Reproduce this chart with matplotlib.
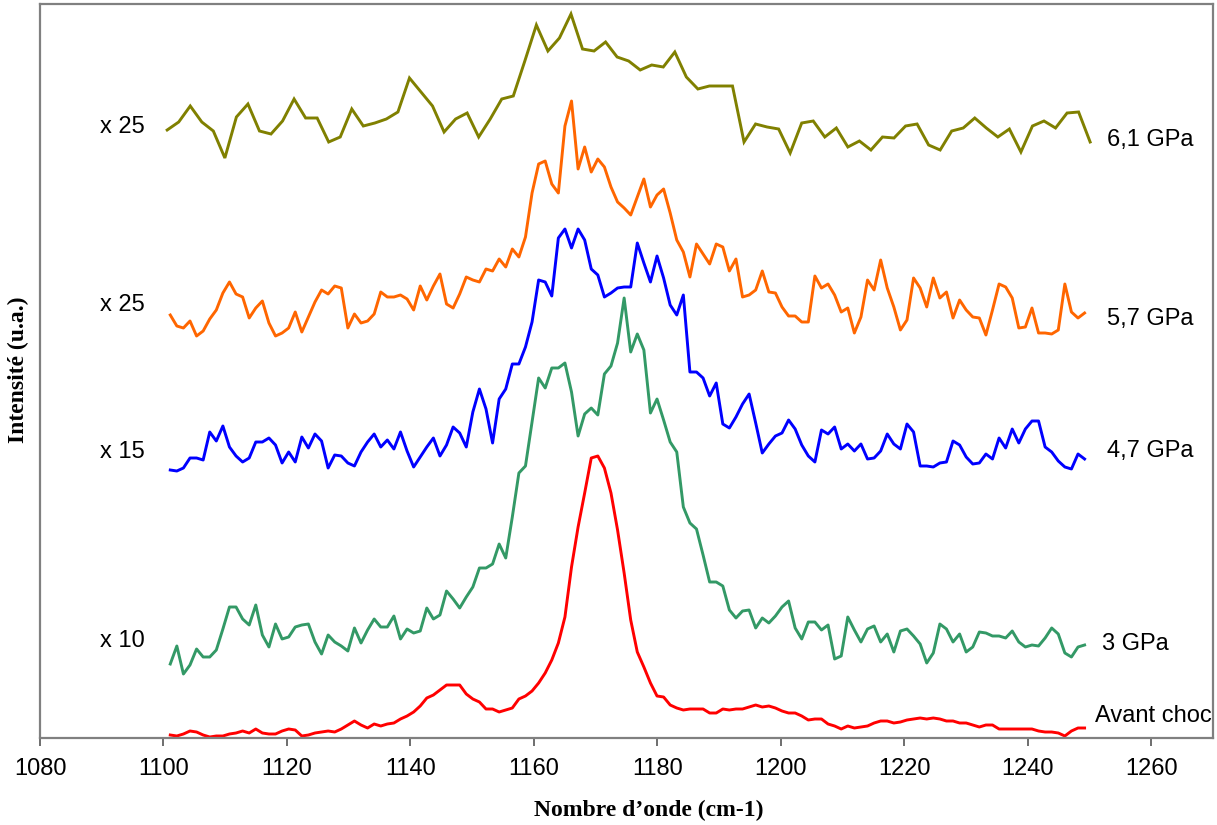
import numpy as np
import matplotlib
matplotlib.use("Agg")
import matplotlib.pyplot as plt

# ---- data (intensity in arbitrary units) ----
olive_start, olive_end = 1100.6, 1250.1
olive_6_1 = [610, 618, 634, 618, 609, 582, 623, 636, 609, 606, 619, 641, 622, 622, 598, 603, 631, 614, 617, 621,
             628, 662, 648, 634, 608, 621, 627,
             603, 621, 641, 644, 679, 715, 689, 702, 726, 691, 689, 698, 683, 679, 670, 675, 673, 688, 663, 651,
             654, 654, 654, 598, 616, 613, 611,
             587, 617, 619, 603, 612, 593, 599, 590, 603, 602, 614, 616, 595, 590, 609, 612, 622, 612, 603, 611,
             588, 614, 619, 612, 627, 628, 598]

grid_start, grid_end = 1101.1, 1249.2
orange_5_7 = [425, 414, 412, 419, 404, 409, 421, 430, 447, 458, 446, 443, 422, 432, 439, 417, 404, 407, 412, 428,
              408, 423, 438, 450, 446, 454, 452, 412, 426, 417, 419, 426, 448, 443, 443, 445, 441, 430, 454, 440,
              454, 466, 436, 432, 446, 463,
              460, 458, 471, 469, 481, 473, 491, 483, 503, 547, 576, 579, 556, 547, 614, 639, 571, 593, 568, 581,
              573, 553, 538, 532, 525, 543, 561, 533, 545, 551, 527, 500, 488, 463, 496, 486, 476, 496, 493, 469,
              481, 443, 445, 450, 469, 448, 447,
              433, 424, 424, 418, 418, 464, 452, 456, 445, 428, 432, 407, 423, 460, 450, 480, 452, 433, 410, 420,
              462, 452, 433, 462, 442, 448, 422, 440, 430, 423, 422, 405, 430, 456, 453, 442, 412, 413, 432, 407,
              407, 406, 410, 456, 428, 422, 427]

blue_4_7 = [270, 269, 272, 282, 282, 280, 308, 299, 314, 293, 284, 278, 282, 298, 298, 302, 295, 277, 288, 278,
            303, 292, 306, 299, 272, 285, 284, 277, 274, 288, 298, 306, 293, 300, 291, 308, 289, 273, 283, 293,
            302, 284, 295, 313, 307, 293,
            328, 351, 331, 297, 341, 351, 376, 376, 393, 418, 460, 458, 444, 502, 511, 492, 511, 500, 471, 465,
            443, 447, 452, 453, 453, 497, 477, 458, 484, 462, 435, 425, 445, 368, 368, 362, 344, 357, 316, 312,
            323, 336, 346, 317, 287, 296, 304,
            307, 320, 311, 295, 284, 278, 310, 306, 313, 291, 296, 289, 296, 281, 282, 289, 306, 296, 291, 316,
            308, 274, 274, 273, 277, 278, 299, 295, 283, 276, 277, 286, 281, 302, 292, 311, 297, 311, 319, 319,
            293, 288, 279, 273, 271, 286, 281]

green_3 = [76, 94, 66, 75, 91, 83, 83, 90, 111, 133, 133, 121, 115, 135, 105, 93, 116, 101, 103, 113,
           115, 116, 98, 86, 105, 98, 94, 89, 112, 97, 110, 121, 113, 113, 124, 101, 111, 107, 109, 132,
           121, 125, 149, 141, 132, 143,
           153, 172, 172, 176, 196, 182, 223, 267, 274, 318, 362, 352, 372, 372, 377, 348, 304, 326, 332, 325,
           366, 374, 397, 442, 388, 406, 390, 327, 341, 320, 298, 288, 233, 217, 211, 185, 158, 158, 154, 130,
           122, 129, 130, 112, 122, 117, 124,
           133, 139, 112, 101, 118, 118, 110, 115, 81, 84, 123, 110, 98, 111, 114, 98, 106, 88, 109, 111,
           104, 96, 77, 87, 116, 111, 98, 106, 88, 93, 108, 107, 104, 104, 102, 109, 98, 93, 95, 94,
           102, 112, 106, 87, 83, 93, 95]

red_avant = [5, 4, 6, 9, 8, 5, 3, 4, 4, 6, 7, 9, 7, 11, 7, 6, 6, 9, 11, 10,
             4, 5, 7, 8, 9, 8, 11, 15, 19, 15, 12, 16, 14, 16, 17, 21, 24, 28, 34, 42,
             45, 50, 55, 55, 55, 46,
             41, 38, 31, 31, 28, 30, 32, 41, 44, 49, 57, 67, 80, 97, 123, 173, 213, 247, 282, 284,
             272, 247, 210, 167, 120, 88, 73, 57, 44, 43, 35, 32, 30, 31, 31, 31, 27, 27, 31, 30,
             31, 31, 33, 35, 33, 34, 32,
             29, 27, 27, 24, 20, 21, 21, 16, 14, 11, 14, 12, 13, 14, 17, 19, 19, 17, 18, 20,
             21, 22, 21, 22, 21, 19, 19, 17, 17, 15, 13, 15, 15, 11, 11, 11, 11, 11, 11, 9,
             8, 8, 7, 4, 9, 12, 12]

series_names = ["6,1 GPa", "5,7 GPa", "4,7 GPa", "3 GPa", "Avant choc"]
factors = ["x 25", "x 25", "x 15", "x 10"]
x_ticks = [1080, 1100, 1120, 1140, 1160, 1180, 1200, 1220, 1240, 1260]

# ---- figure ----
W, H = 1217, 825
fig = plt.figure(figsize=(W / 100, H / 100), dpi=100)
ax = fig.add_axes([40 / W, (H - 737.5) / H, (1213 - 40) / W, (737.5 - 4) / H])

olive_x = np.linspace(olive_start, olive_end, len(olive_6_1))
grid_x = np.linspace(grid_start, grid_end, len(orange_5_7))

lw = 2.1
ax.plot(olive_x, olive_6_1, color="#808000", lw=lw, solid_joinstyle="miter")
ax.plot(grid_x, orange_5_7, color="#FF6600", lw=lw)
ax.plot(grid_x, blue_4_7, color="#0000FF", lw=lw)
ax.plot(grid_x, green_3, color="#339966", lw=lw)
ax.plot(grid_x, red_avant, color="#FF0000", lw=lw)

ax.set_xlim(1080, 1270)
ax.set_ylim(2.5, 736)
ax.set_xticks(x_ticks)
ax.set_yticks([])

for s in ax.spines.values():
    s.set_color("#808080")
    s.set_linewidth(1.6)

ax.tick_params(axis="x", direction="out", length=6, width=1.2, color="#555555",
               labelsize=17, pad=9)
for lab in ax.get_xticklabels():
    lab.set_fontfamily("Liberation Sans")

fs = 17
sans = "Liberation Sans"
# multiplication factors on the left
for txt, yv in zip(factors, [613, 435, 288, 99]):
    ax.text(1089.7, yv, txt, fontsize=fs, family=sans, ha="left", va="center")
# series names on the right
for txt, (xv, yv) in zip(series_names, [(1252.8, 600), (1252.8, 421), (1252.8, 289),
                                        (1252.0, 96), (1250.9, 24)]):
    ax.text(xv, yv, txt, fontsize=fs, family=sans, ha="left", va="center", clip_on=False)

fig.text(18 / W, 1 - 370 / H, "Intensité (u.a.)", rotation=90, fontsize=17,
         family="Liberation Serif", fontweight="bold", ha="center", va="center")
fig.text(649 / W, 1 - 810 / H, "Nombre d’onde (cm-1)", fontsize=17,
         family="Liberation Serif", fontweight="bold", ha="center", va="center")

fig.savefig("out.png", dpi=100)
